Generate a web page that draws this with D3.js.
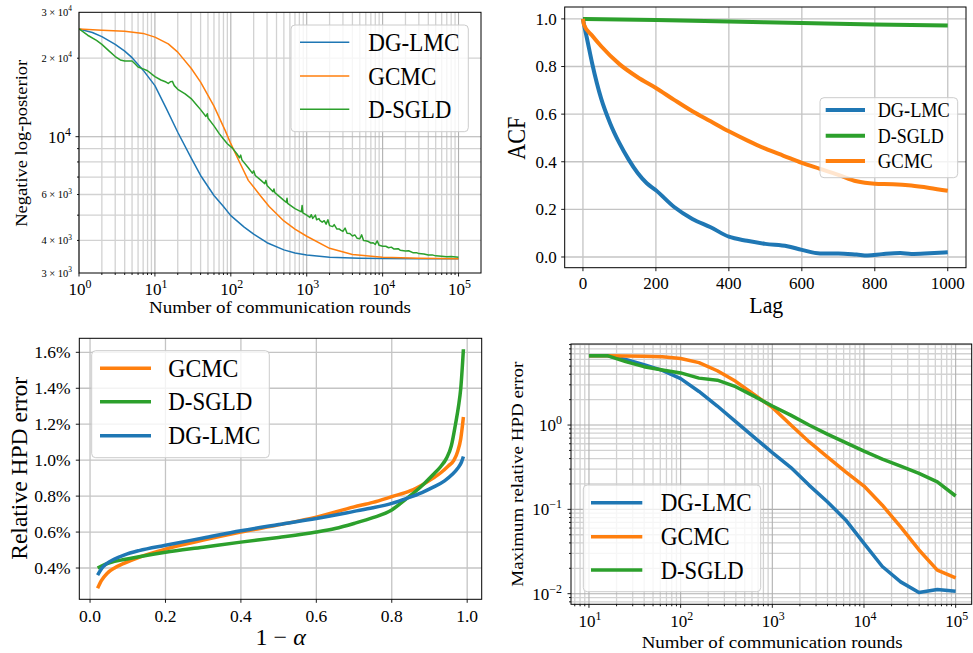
<!DOCTYPE html>
<html><head><meta charset="utf-8">
<script src="https://cdn.jsdelivr.net/npm/d3@7"></script>
<style>
body{margin:0;background:#fff}
svg{display:block}
text{font-family:"Liberation Serif","DejaVu Serif",serif;fill:#000}
</style></head>
<body><svg id="c" width="973" height="653"></svg>
<script>
// ---------------- DATA ----------------
const colors = {"DG-LMC":"#1f77b4","GCMC":"#ff7f0e","D-SGLD":"#2ca02c"};

// Panel A: negative log-posterior vs communication rounds
const nlpDGLMC = [[1,25900],[1.5,25100],[2,24200],[3,22600],[4,21300],[5,20100],[7,18000],[10,15700],[14,12900],[20,10400],[30,8300],[40,7100],[60,5950],[80,5400],[100,4980],[150,4500],[200,4230],[300,3920],[500,3680],[700,3580],[1000,3520],[2000,3450],[5000,3420],[10000,3410],[30000,3405],[100000,3400]];
const nlpGCMC = [[1,25900],[2,25600],[4,25400],[7,24900],[10,24100],[15,22700],[20,21100],[30,18300],[40,16200],[60,13100],[85,10500],[100,9400],[130,8000],[170,6800],[250,5900],[320,5400],[500,4750],[700,4420],[1000,4150],[2000,3730],[4000,3530],[10000,3450],[30000,3420],[100000,3400]];
const nlpDSGLD = [[1,25900],[1.3,24500],[1.7,23400],[2,22600],[2.5,21300],[3,20300],[3.5,19700],[4,19500],[5,19500],[5.5,19000],[6,18500],[7,18200],[8,17900],[10,17000],[12,16500],[14,16200],[15,16000],[16,16250],[17,16300],[18,15700],[20,15200],[25,14600],[30,14000],[35,13300],[40,12700],[47,11950],[49,12250],[50,11800],[60,11000],[70,10300],[80,9800],[90,9400],[105,9040],[120,8600],[130,8300],[135,8500],[140,8150],[170,7600],[192,7250],[200,7400],[210,7100],[250,6800],[280,6600],[290,6800],[300,6500],[360,6150],[370,6300],[380,6100],[450,5850],[500,5700],[540,5600],[550,5800],[560,5550],[700,5300],[850,5150],[870,5450],[890,5100],[1000,5000],[1100,4900],[1150,5020],[1200,4860],[1300,5000],[1350,4800],[1450,4850],[1500,4760],[1600,4700],[1700,4760],[1800,4620],[1900,4800],[2000,4560],[2200,4520],[2300,4600],[2500,4420],[2700,4420],[2800,4380],[3000,4330],[3200,4460],[3400,4260],[3700,4250],[4000,4160],[4300,4200],[4600,4080],[5000,4060],[5300,4200],[5600,4000],[6000,3990],[6500,3960],[7000,3910],[7500,3920],[8000,3860],[8500,3980],[9000,3830],[10000,3800],[11000,3800],[12000,3750],[13000,3770],[14000,3710],[16000,3720],[17000,3670],[20000,3640],[22000,3650],[25000,3590],[28000,3590],[30000,3560],[35000,3550],[40000,3520],[45000,3520],[50000,3490],[60000,3480],[70000,3460],[80000,3470],[100000,3450]];
const nlpXTicks = [1,10,100,1000,10000,100000];
const nlpYTicks = [[3000,"3","3"],[4000,"4","3"],[6000,"6","3"],[20000,"2","4"],[30000,"3","4"]];
const nlpYMajor = [10000];

// Panel B: ACF vs lag
const acfDGLMC = [[0,1.0],[5,0.96],[10,0.925],[25,0.815],[50,0.665],[75,0.56],[100,0.478],[125,0.41],[150,0.353],[175,0.31],[200,0.28],[250,0.21],[300,0.16],[350,0.125],[400,0.085],[450,0.068],[500,0.055],[560,0.045],[600,0.03],[650,0.015],[700,0.015],[750,0.01],[780,0.006],[820,0.012],[870,0.017],[900,0.013],[950,0.016],[1000,0.02]];
const acfDSGLD = [[0,1.0],[200,0.995],[400,0.989],[600,0.983],[800,0.977],[1000,0.972]];
const acfGCMC = [[0,1.0],[3,0.975],[25,0.93],[50,0.885],[100,0.81],[150,0.755],[200,0.71],[250,0.66],[300,0.612],[350,0.57],[400,0.528],[450,0.49],[500,0.455],[550,0.425],[600,0.395],[650,0.37],[700,0.345],[750,0.318],[800,0.308],[850,0.306],[900,0.30],[950,0.29],[1000,0.278]];
const acfXTicks = [0,200,400,600,800,1000];
const acfYTicks = [0,0.2,0.4,0.6,0.8,1.0];

// Panel C: relative HPD error vs 1-alpha (percent)
const hpdGCMC = [[0.02,0.287],[0.03,0.33],[0.045,0.37],[0.065,0.40],[0.09,0.426],[0.13,0.46],[0.2,0.505],[0.3,0.555],[0.4,0.6],[0.5,0.64],[0.6,0.683],[0.7,0.74],[0.75,0.765],[0.8,0.797],[0.85,0.83],[0.885,0.868],[0.91,0.9],[0.93,0.93],[0.95,0.968],[0.965,1.0],[0.975,1.05],[0.983,1.12],[0.99,1.24]];
const hpdDSGLD = [[0.02,0.40],[0.04,0.42],[0.065,0.437],[0.09,0.447],[0.13,0.463],[0.2,0.488],[0.3,0.516],[0.4,0.544],[0.5,0.57],[0.6,0.6],[0.65,0.62],[0.7,0.648],[0.75,0.68],[0.8,0.723],[0.84,0.788],[0.865,0.83],[0.885,0.868],[0.91,0.92],[0.93,0.965],[0.945,1.01],[0.958,1.08],[0.969,1.2],[0.977,1.3],[0.983,1.4],[0.99,1.617]];
const hpdDGLMC = [[0.02,0.36],[0.03,0.395],[0.045,0.426],[0.065,0.45],[0.09,0.472],[0.13,0.497],[0.2,0.527],[0.3,0.567],[0.4,0.607],[0.5,0.642],[0.6,0.676],[0.7,0.715],[0.75,0.735],[0.8,0.76],[0.84,0.788],[0.88,0.82],[0.91,0.85],[0.94,0.885],[0.96,0.92],[0.975,0.955],[0.985,0.99],[0.99,1.02]];
const hpdXTicks = [0,0.2,0.4,0.6,0.8,1.0];
const hpdYTicks = [0.4,0.6,0.8,1.0,1.2,1.4,1.6];

// Panel D: maximum relative HPD error vs communication rounds
const maxRounds = [10,15.85,25.12,39.81,63.1,100,158.5,251.2,398.1,631,1000,1585,2512,3981,6310,10000,15849,25119,39811,63096,100000];
const maxDGLMC = [6.64,6.64,6.0,5.2,4.45,3.55,2.5,1.68,1.1,0.72,0.47,0.315,0.194,0.123,0.075,0.0395,0.021,0.0138,0.0103,0.0112,0.0107];
const maxGCMC = [6.64,6.64,6.6,6.55,6.45,6.15,5.5,4.4,3.3,2.3,1.62,1.01,0.634,0.42,0.279,0.189,0.112,0.062,0.033,0.019,0.0154];
const maxDSGLD = [6.64,6.64,5.64,4.92,4.5,4.15,3.6,3.4,2.85,2.2,1.68,1.31,1.0,0.78,0.62,0.49,0.395,0.326,0.267,0.212,0.144];
const maxXTicks = [["10","1"],["100","2"],["1000","3"],["10000","4"],["100000","5"]];
const maxYTicks = [[1,"0"],[0.1,"\u22121"],[0.01,"\u22122"]];

// ---------------- HELPERS ----------------
const svg = d3.select("#c");
let clipId = 0;

function supText(g, x, y, main, exp, size, anchor) {
  const t = g.append("text").attr("x", x).attr("y", y).attr("text-anchor", anchor).style("font-size", size + "px");
  t.append("tspan").text(main);
  t.append("tspan").attr("dy", -0.42 * size).style("font-size", (size * 0.7) + "px").text(exp);
  return t;
}

function logMinors(domain) {
  const lo = Math.floor(Math.log10(domain[0])), hi = Math.ceil(Math.log10(domain[1]));
  const out = [];
  for (let e = lo; e <= hi; e++) for (let m = 2; m <= 9; m++) {
    const v = m * Math.pow(10, e);
    if (v >= domain[0] && v <= domain[1]) out.push(v);
  }
  return out;
}

function frame(x, y) {
  const [x0, x1] = x.range(), [y0, y1] = y.range();
  return {x0: Math.min(x0, x1), x1: Math.max(x0, x1), y0: Math.min(y0, y1), y1: Math.max(y0, y1)};
}

function grid(g, x, y, xs, ys, color, w) {
  const f = frame(x, y);
  g.selectAll(null).data(xs).enter().append("line")
    .attr("x1", d => x(d)).attr("x2", d => x(d)).attr("y1", f.y0).attr("y2", f.y1)
    .attr("stroke", color).attr("stroke-width", w);
  g.selectAll(null).data(ys).enter().append("line")
    .attr("y1", d => y(d)).attr("y2", d => y(d)).attr("x1", f.x0).attr("x2", f.x1)
    .attr("stroke", color).attr("stroke-width", w);
}

function ticks(g, x, y, xs, ys, len) {
  const f = frame(x, y);
  g.selectAll(null).data(xs).enter().append("line")
    .attr("x1", d => x(d)).attr("x2", d => x(d)).attr("y1", f.y1).attr("y2", f.y1 + len)
    .attr("stroke", "#000").attr("stroke-width", 0.9);
  g.selectAll(null).data(ys).enter().append("line")
    .attr("y1", d => y(d)).attr("y2", d => y(d)).attr("x1", f.x0).attr("x2", f.x0 - len)
    .attr("stroke", "#000").attr("stroke-width", 0.9);
}

function spines(g, x, y) {
  const f = frame(x, y);
  g.append("rect").attr("x", f.x0).attr("y", f.y0).attr("width", f.x1 - f.x0).attr("height", f.y1 - f.y0)
    .attr("fill", "none").attr("stroke", "#000").attr("stroke-width", 1);
}

function lines(g, x, y, series, width, curve) {
  const f = frame(x, y);
  const id = "clip" + (clipId++);
  g.append("clipPath").attr("id", id).append("rect")
    .attr("x", f.x0).attr("y", f.y0).attr("width", f.x1 - f.x0).attr("height", f.y1 - f.y0);
  const gen = d3.line().x(d => x(d[0])).y(d => y(d[1])).curve(curve || d3.curveLinear);
  const lg = g.append("g").attr("clip-path", `url(#${id})`);
  series.forEach(s => {
    lg.append("path").attr("d", gen(s.data)).attr("fill", "none")
      .attr("stroke", colors[s.name]).attr("stroke-width", width)
      .attr("stroke-linejoin", "round");
  });
}

function legend(g, box, entries, lineX, textX, ys, size, width, widths) {
  g.append("rect").attr("x", box[0]).attr("y", box[1]).attr("width", box[2] - box[0]).attr("height", box[3] - box[1])
    .attr("rx", 4).attr("fill", "#fff").attr("fill-opacity", 0.8).attr("stroke", "#cccccc").attr("stroke-width", 1);
  entries.forEach((n, i) => {
    g.append("line").attr("x1", lineX[0]).attr("x2", lineX[1]).attr("y1", ys[i]).attr("y2", ys[i])
      .attr("stroke", colors[n]).attr("stroke-width", width);
    g.append("text").attr("x", textX).attr("y", ys[i] + 0.345 * size).style("font-size", size + "px")
      .attr("textLength", widths[i]).attr("lengthAdjust", "spacingAndGlyphs").text(n);
  });
}

function label(g, txt, x, y, size, len, rotate) {
  const t = g.append("text").attr("text-anchor", "middle").style("font-size", size + "px");
  if (rotate) t.attr("transform", `translate(${x},${y}) rotate(-90)`);
  else t.attr("x", x).attr("y", y);
  if (len) t.attr("textLength", len).attr("lengthAdjust", "spacingAndGlyphs");
  t.text(txt);
  return t;
}

// ---------------- PANEL A ----------------
{
  const g = svg.append("g");
  const x = d3.scaleLog().domain([1, Math.pow(10, 5.296)]).range([79, 481]);
  const y = d3.scaleLog().domain([3000, 30000]).range([273, 12.3]);
  const xMin = logMinors(x.domain()), yMin = logMinors(y.domain()).filter(v => v !== 3000 && v !== 30000);
  grid(g, x, y, xMin, yMin, "#d2d2d2", 1.3);
  grid(g, x, y, nlpXTicks, nlpYMajor, "#b0b0b0", 1.1);
  lines(g, x, y, [{name:"DG-LMC",data:nlpDGLMC},{name:"GCMC",data:nlpGCMC},{name:"D-SGLD",data:nlpDSGLD}], 1.5);
  spines(g, x, y);
  ticks(g, x, y, nlpXTicks, nlpYMajor, 3.5);
  ticks(g, x, y, xMin, yMin, 2);
  nlpXTicks.forEach((v, i) => supText(g, x(v) + 1, 295, "10", String(i), 17, "middle"));
  nlpYTicks.forEach(t => supText(g, 72, y(t[0]) + 3.5, t[1] + " \u00d7 10", t[2], 10.5, "end"));
  supText(g, 71, y(10000) + 6, "10", "4", 17, "end");
  label(g, "Number of communication rounds", 280, 313, 16.5, 262);
  label(g, "Negative log-posterior", 26.5, 143.3, 16, 167, true);
  legend(g, [291, 25, 468.3, 131.7], ["DG-LMC","GCMC","D-SGLD"], [300, 349.3], 368.3, [42.3, 76, 109.3], 25, 1.5, [91, 68, 83]);
}

// ---------------- PANEL B ----------------
{
  const g = svg.append("g");
  const x = d3.scaleLinear().domain([-50, 1050]).range([564.7, 966]);
  const y = d3.scaleLinear().domain([-0.045, 1.05]).range([267.7, 7]);
  grid(g, x, y, acfXTicks, acfYTicks, "#c4c4c4", 1.3);
  lines(g, x, y, [{name:"DG-LMC",data:acfDGLMC},{name:"D-SGLD",data:acfDSGLD},{name:"GCMC",data:acfGCMC}], 4, d3.curveMonotoneX);
  spines(g, x, y);
  ticks(g, x, y, acfXTicks, acfYTicks, 3.5);
  acfXTicks.forEach(v => g.append("text").attr("x", x(v)).attr("y", 289).attr("text-anchor", "middle").style("font-size", "17px").text(String(v)));
  acfYTicks.forEach(v => g.append("text").attr("x", 556.7).attr("y", y(v) + 5.8).attr("text-anchor", "end").style("font-size", "17px").text(v.toFixed(1)));
  label(g, "Lag", 766.3, 313.3, 23, 34);
  label(g, "ACF", 525, 138.3, 25, 43, true);
  legend(g, [820, 97.7, 957.7, 177.7], ["DG-LMC","D-SGLD","GCMC"], [825.7, 865], 877.7, [110, 135.7, 161], 20, 4, [72, 66, 55]);
}

// ---------------- PANEL C ----------------
{
  const g = svg.append("g");
  const x = d3.scaleLinear().domain([-0.0285, 1.0385]).range([79.3, 481.7]);
  const y = d3.scaleLinear().domain([0.226, 1.678]).range([599.3, 338.3]);
  grid(g, x, y, hpdXTicks, hpdYTicks, "#c4c4c4", 1.3);
  lines(g, x, y, [{name:"GCMC",data:hpdGCMC},{name:"D-SGLD",data:hpdDSGLD},{name:"DG-LMC",data:hpdDGLMC}], 3.5, d3.curveMonotoneX);
  spines(g, x, y);
  ticks(g, x, y, hpdXTicks, hpdYTicks, 3.5);
  hpdXTicks.forEach(v => g.append("text").attr("x", x(v)).attr("y", 621.7).attr("text-anchor", "middle").style("font-size", "17.5px").text(v.toFixed(1)));
  hpdYTicks.forEach(v => g.append("text").attr("x", 70.7).attr("y", y(v) + 6).attr("text-anchor", "end").style("font-size", "17.5px").text(v.toFixed(1) + "%"));
  const xl = g.append("text").attr("x", 280.7).attr("y", 645).attr("text-anchor", "middle").style("font-size", "24px");
  xl.append("tspan").text("1 \u2212 ");
  xl.append("tspan").style("font-style", "italic").text("\u03b1");
  label(g, "Relative HPD error", 26.7, 468.3, 24, 183, true);
  legend(g, [91.7, 350.7, 269.3, 457.7], ["GCMC","D-SGLD","DG-LMC"], [100, 151], 168.3, [368.3, 401.7, 435.7], 24.5, 3.5, [70, 84, 92]);
}

// ---------------- PANEL D ----------------
{
  const g = svg.append("g");
  const x = d3.scaleLog().domain([Math.pow(10, 0.804), Math.pow(10, 5.175)]).range([571, 971.7]);
  const y = d3.scaleLog().domain([Math.pow(10, -2.126), Math.pow(10, 0.961)]).range([604.3, 344]);
  const xMaj = maxXTicks.map(t => +t[0]), yMaj = maxYTicks.map(t => t[0]);
  const xMin = logMinors(x.domain()), yMin = logMinors(y.domain());
  grid(g, x, y, xMin, yMin, "#d2d2d2", 1.3);
  grid(g, x, y, xMaj, yMaj, "#b0b0b0", 1.1);
  const mk = vals => maxRounds.map((r, i) => [r, vals[i]]);
  lines(g, x, y, [{name:"DG-LMC",data:mk(maxDGLMC)},{name:"GCMC",data:mk(maxGCMC)},{name:"D-SGLD",data:mk(maxDSGLD)}], 3.5);
  spines(g, x, y);
  ticks(g, x, y, xMaj, yMaj, 3.5);
  ticks(g, x, y, xMin, yMin, 2);
  maxXTicks.forEach(t => supText(g, x(+t[0]) + 1, 626.7, "10", t[1], 17, "middle"));
  maxYTicks.forEach(t => supText(g, 562, y(t[0]) + 6, "10", t[1], 17, "end"));
  label(g, "Number of communication rounds", 772.2, 647.5, 16.5, 261);
  label(g, "Maximum relative HPD error", 523, 474.2, 16.5, 225, true);
  legend(g, [583.3, 485, 760.7, 591.7], ["DG-LMC","GCMC","D-SGLD"], [591, 642.3], 660.7, [502.7, 536.7, 570], 25, 3.5, [91, 69, 83]);
}
</script></body></html>
